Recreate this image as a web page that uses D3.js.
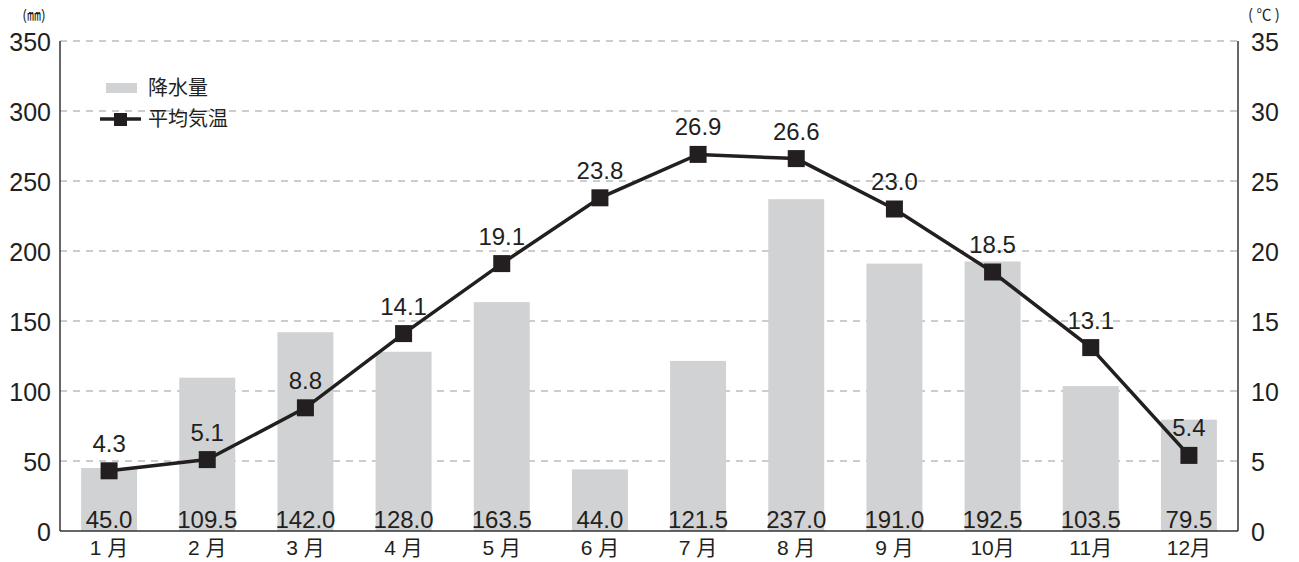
<!DOCTYPE html>
<html>
<head>
<meta charset="utf-8">
<script src="https://cdn.jsdelivr.net/npm/d3@7"></script>
<style>
  body { margin: 0; background: #fff; }
  svg text { font-family: "Liberation Sans", Arial, "Noto Sans CJK JP", sans-serif; fill: #231f20; }
  .jp { font-family: "Noto Sans CJK JP", sans-serif; }
</style>
</head>
<body>
<div id="chart"></div>
<script>
// Chart data
const months = ["1 月", "2 月", "3 月", "4 月", "5 月", "6 月", "7 月", "8 月", "9 月", "10月", "11月", "12月"];
const rainfall = [45.0, 109.5, 142.0, 128.0, 163.5, 44.0, 121.5, 237.0, 191.0, 192.5, 103.5, 79.5];
const temperature = [4.3, 5.1, 8.8, 14.1, 19.1, 23.8, 26.9, 26.6, 23.0, 18.5, 13.1, 5.4];
const leftTicks = [0, 50, 100, 150, 200, 250, 300, 350];
const rightTicks = [0, 5, 10, 15, 20, 25, 30, 35];

const width = 1299, height = 562;
const margin = {top: 41, right: 61, bottom: 31, left: 60};

const svg = d3.select("#chart").append("svg")
    .attr("width", width)
    .attr("height", height);

const x = d3.scaleBand()
    .domain(months)
    .range([margin.left, width - margin.right])
    .paddingInner(0.43)
    .paddingOuter(0.215);

const yL = d3.scaleLinear().domain([0, 350]).range([height - margin.bottom, margin.top]);
const yR = d3.scaleLinear().domain([0, 35]).range([height - margin.bottom, margin.top]);

// Dashed gridlines
svg.append("g")
    .selectAll("line")
    .data(leftTicks.filter(d => d > 0))
    .enter().append("line")
    .attr("x1", margin.left)
    .attr("x2", width - margin.right)
    .attr("y1", d => yL(d))
    .attr("y2", d => yL(d))
    .attr("stroke", "#9a9a9a")
    .attr("stroke-width", 1)
    .attr("stroke-dasharray", "7,6");

// Bars
svg.append("g")
    .selectAll("rect")
    .data(rainfall)
    .enter().append("rect")
    .attr("x", (d, i) => x(months[i]))
    .attr("y", d => yL(d))
    .attr("width", x.bandwidth())
    .attr("height", d => yL(0) - yL(d))
    .attr("fill", "#d1d2d4");

// Bar value labels at bottom
svg.append("g")
    .selectAll("text")
    .data(rainfall)
    .enter().append("text")
    .attr("x", (d, i) => x(months[i]) + x.bandwidth() / 2)
    .attr("y", yL(0) - 3)
    .attr("text-anchor", "middle")
    .attr("font-size", 24)
    .text(d => d.toFixed(1));

// Axes
const axisL = svg.append("g")
    .attr("transform", "translate(" + margin.left + ",0)")
    .call(d3.axisLeft(yL).tickValues(leftTicks).tickSize(0).tickPadding(9));
const axisR = svg.append("g")
    .attr("transform", "translate(" + (width - margin.right) + ",0)")
    .call(d3.axisRight(yR).tickValues(rightTicks).tickSize(0).tickPadding(13));
const axisB = svg.append("g")
    .attr("transform", "translate(0," + (height - margin.bottom) + ")")
    .call(d3.axisBottom(x).tickSize(0).tickPadding(9).tickSizeOuter(0));

[axisL, axisR].forEach(a => {
    a.select(".domain").attr("stroke", "#333").attr("stroke-width", 1.5);
    a.selectAll("text").attr("font-size", 25).attr("fill", "#231f20")
        .style("font-family", "'Liberation Sans', Arial, sans-serif");
});
axisL.select(".domain").attr("d", "M0," + yL(350) + "V" + yL(0));
axisR.select(".domain").attr("d", "M0," + yR(35) + "V" + yR(0));
axisL.selectAll(".tick text").attr("dy", "0.36em").attr("y", 0);
axisR.selectAll(".tick text").attr("dy", "0.36em").attr("y", 0);
axisB.select(".domain").attr("stroke", "#333").attr("stroke-width", 1.5)
    .attr("d", "M" + margin.left + ",0H" + (width - margin.right));
axisB.selectAll("text").attr("font-size", 21).attr("fill", "#231f20")
    .style("font-family", "'Liberation Sans', 'Noto Sans CJK JP', sans-serif");

// Unit labels
svg.append("text").attr("class", "jp")
    .attr("x", 34).attr("y", 20)
    .attr("text-anchor", "middle").attr("font-size", 14)
    .text("(㎜)");
svg.append("text").attr("class", "jp")
    .attr("x", 1264).attr("y", 20)
    .attr("text-anchor", "middle").attr("font-size", 15)
    .text("( ℃ )");

// Temperature line
const cx = (d, i) => x(months[i]) + x.bandwidth() / 2;
const line = d3.line()
    .x((d, i) => cx(d, i))
    .y(d => yR(d));

svg.append("path")
    .datum(temperature)
    .attr("d", line)
    .attr("fill", "none")
    .attr("stroke", "#231f20")
    .attr("stroke-width", 3.5);

const ms = 17;
svg.append("g")
    .selectAll("rect")
    .data(temperature)
    .enter().append("rect")
    .attr("x", (d, i) => cx(d, i) - ms / 2)
    .attr("y", d => yR(d) - ms / 2)
    .attr("width", ms)
    .attr("height", ms)
    .attr("fill", "#231f20");

// Temperature labels
svg.append("g")
    .selectAll("text")
    .data(temperature)
    .enter().append("text")
    .attr("x", (d, i) => cx(d, i))
    .attr("y", d => yR(d) - 19)
    .attr("text-anchor", "middle")
    .attr("font-size", 24)
    .text(d => d.toFixed(1));

// Legend
const legend = svg.append("g");
legend.append("rect")
    .attr("x", 106).attr("y", 83)
    .attr("width", 31).attr("height", 10)
    .attr("fill", "#d1d2d4");
legend.append("text").attr("class", "jp")
    .attr("x", 148).attr("y", 95)
    .attr("font-size", 20)
    .text("降水量");
legend.append("line")
    .attr("x1", 100).attr("x2", 141)
    .attr("y1", 119).attr("y2", 119)
    .attr("stroke", "#231f20").attr("stroke-width", 3.5);
legend.append("rect")
    .attr("x", 114).attr("y", 113)
    .attr("width", 13).attr("height", 13)
    .attr("fill", "#231f20");
legend.append("text").attr("class", "jp")
    .attr("x", 148).attr("y", 126)
    .attr("font-size", 20)
    .text("平均気温");
</script>
</body>
</html>
